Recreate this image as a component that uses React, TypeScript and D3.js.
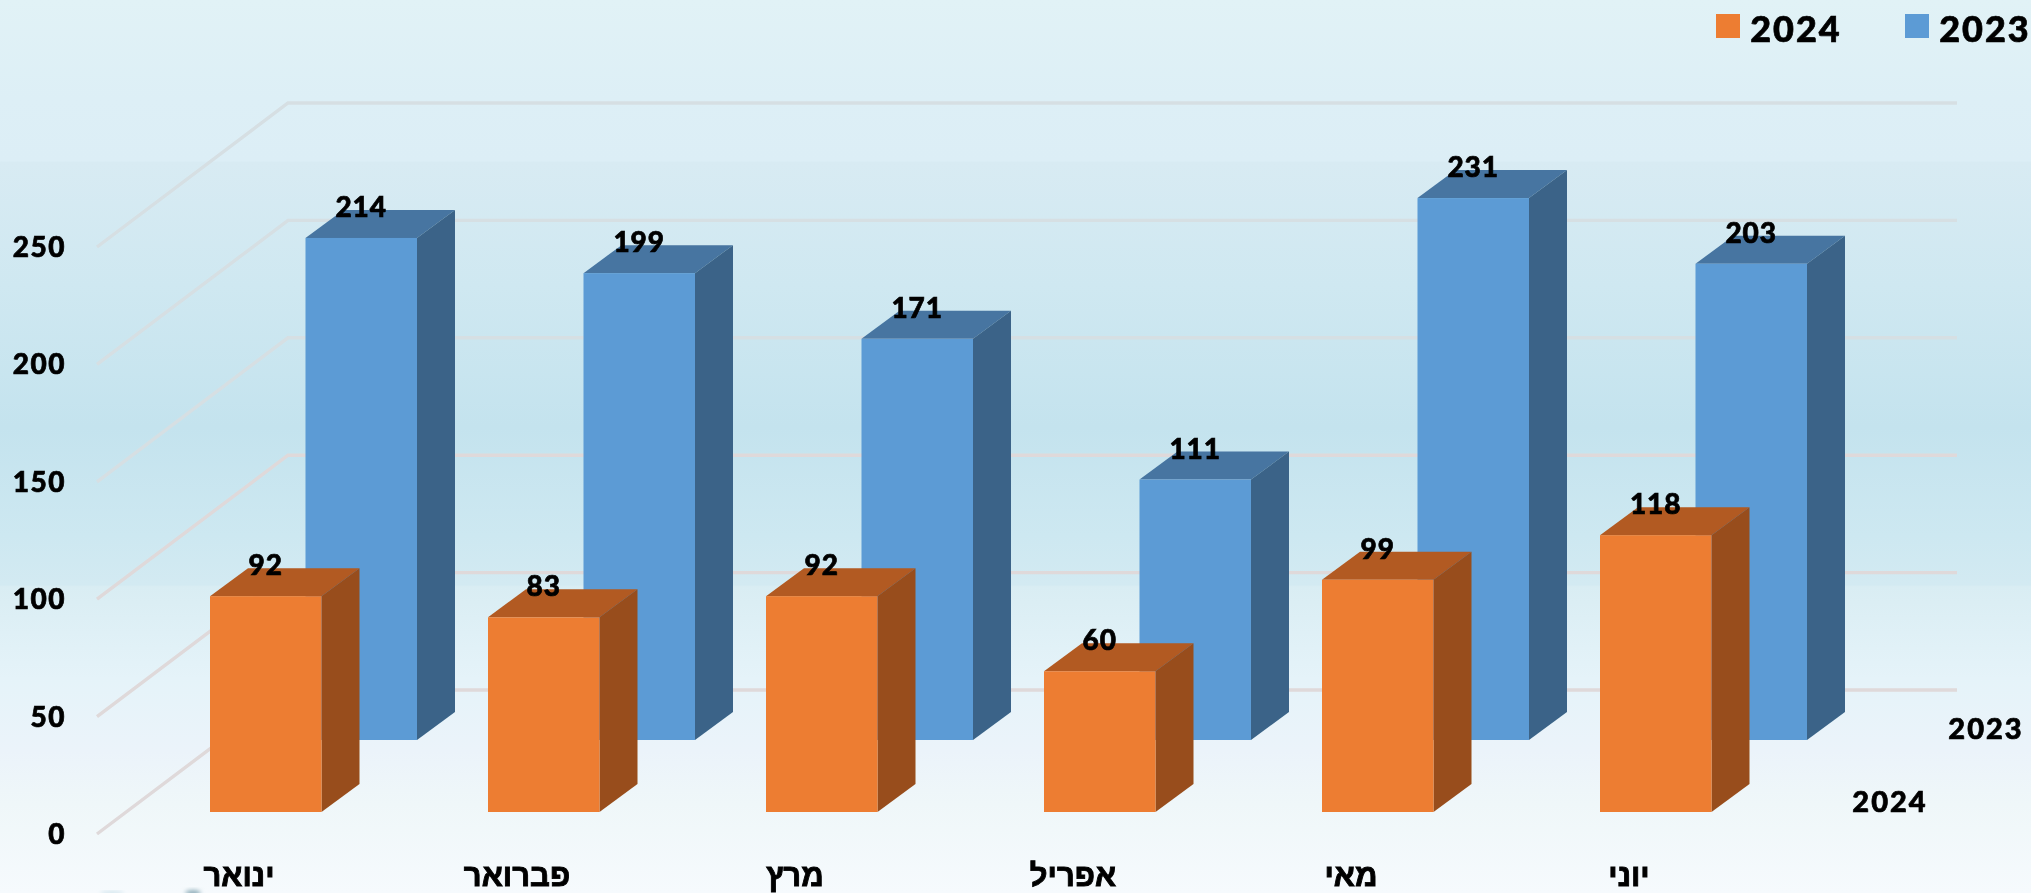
import React from "react";
import * as d3 from "d3";

const months = ["ינואר", "פברואר", "מרץ", "אפריל", "מאי", "יוני"];
const values2024 = [92, 83, 92, 60, 99, 118];
const values2023 = [214, 199, 171, 111, 231, 203];
const ticks = [0, 50, 100, 150, 200, 250];
const seriesNames = ["2024", "2023"];

const W = 2031, H = 893;
const digitFont = "Lato, 'Open Sans', sans-serif";
const hebFont = "'Liberation Sans', 'DejaVu Sans', sans-serif";

const bgStops: [number, string][] = [
  [0, "#e1f2f6"], [0.11, "#ddeff6"], [0.18, "#dceef6"], [0.182, "#d8ebf3"], [0.32, "#cfe8f1"],
  [0.478, "#c4e3ee"], [0.6, "#cde8f1"], [0.655, "#d3eaf2"], [0.657, "#d9edf3"], [0.76, "#e5f3f9"],
  [0.84, "#ebf3fa"], [0.9, "#eff7f9"], [1, "#f6fafd"],
];

const x = d3.scaleBand<number>().domain(d3.range(6)).range([210, 1878]).paddingInner(0).paddingOuter(0);
const barW = 111.5;
const yLen = (v: number) => d3.scaleLinear().domain([0, 250]).range([0, 586.5])(v);
const depth = { dx: 38, dy: 28 };
const gridDepth = { dx: 191, dy: 144 };
const gridBack = d3.scaleLinear().domain([0, 250]).range([690, 103]);
const gridX = { left: 97, back: 288, right: 1957 };

function Bar({ x0, base, v, front, side, top }: any) {
  const h = yLen(v);
  const x1 = x0 + barW, yt = base - h;
  const { dx, dy } = depth;
  return (
    <g>
      <polygon points={`${x0},${yt} ${x1},${yt} ${x1 + dx},${yt - dy} ${x0 + dx},${yt - dy}`} fill={top} />
      <polygon points={`${x1},${yt} ${x1 + dx},${yt - dy} ${x1 + dx},${base - dy} ${x1},${base}`} fill={side} />
      <rect x={x0} y={yt} width={barW} height={h} fill={front} />
    </g>
  );
}

const Num = ({ x, y, size = 28, spacing = 1, anchor = "middle", children }: any) => (
  <text x={x} y={y} fontFamily={digitFont} fontWeight={900} fontSize={size} letterSpacing={spacing}
    textAnchor={anchor} dominantBaseline="central" fill="#000" stroke="#000" strokeWidth={0.7}>{children}</text>
);

export default function App() {
  return (
    <svg width={W} height={H} viewBox={`0 0 ${W} ${H}`}
      style={{ position: "absolute", left: 0, top: 0, display: "block" }}>
      <defs>
        <linearGradient id="bg" x1="0" y1="0" x2="0" y2="1">
          {bgStops.map(([o, c]) => <stop key={o} offset={o} stopColor={c} />)}
        </linearGradient>
        <filter id="soft" x="-2%" y="-2%" width="104%" height="104%">
          <feGaussianBlur stdDeviation="0.7" />
        </filter>
        <filter id="smudge" x="-50%" y="-50%" width="200%" height="200%">
          <feGaussianBlur stdDeviation="2" />
        </filter>
      </defs>
      <rect width={W} height={H} fill="url(#bg)" />
      <ellipse cx={193} cy={893} rx={8} ry={3} fill="#8fadb9" filter="url(#smudge)" />
      <ellipse cx={112} cy={893} rx={12} ry={1.5} fill="#c5dde7" filter="url(#smudge)" />
      <g filter="url(#soft)">
        {ticks.map((t) => {
          const yb = gridBack(t);
          return (
            <g key={t}>
              <polyline points={`${gridX.left},${yb + gridDepth.dy} ${gridX.back},${yb} ${gridX.right},${yb}`}
                fill="none" stroke={t < 125 ? "#dfd9da" : "#d6dfe3"} strokeWidth={3.4} />
              <Num x={66} y={yb + gridDepth.dy - 1} anchor="end" spacing={1.5}>{t}</Num>
            </g>
          );
        })}
        {months.map((_, i) => (
          <Bar key={i} x0={x(i)! + 95.5} base={740} v={values2023[i]} front="#5b9bd5" side="#3a6488" top="#4675a1" />
        ))}
        {months.map((_, i) => (
          <Bar key={i} x0={x(i)!} base={812} v={values2024[i]} front="#ed7d31" side="#984e1c" top="#b25a21" />
        ))}
        {months.map((_, i) => (
          <Num key={i} x={x(i)! + 95.5 + barW / 2} y={740 - yLen(values2023[i]) - 32}>{values2023[i]}</Num>
        ))}
        {months.map((_, i) => (
          <Num key={i} x={x(i)! + barW / 2} y={812 - yLen(values2024[i]) - 32}>{values2024[i]}</Num>
        ))}
        {months.map((m, i) => (
          <text key={m} x={x(i)! + 29} y={886} direction="rtl" textAnchor="middle"
            fontFamily={hebFont} fontWeight={700} fontSize={31} fill="#000" stroke="#000" strokeWidth={0.9}>{m}</text>
        ))}
        <Num x={1986} y={727} size={29} spacing={2}>{seriesNames[1]}</Num>
        <Num x={1890} y={800} size={29} spacing={2}>{seriesNames[0]}</Num>
        <rect x={1716} y={14} width={24} height={24} fill="#ed7d31" />
        <Num x={1796} y={28} size={36} spacing={2}>{seriesNames[0]}</Num>
        <rect x={1905} y={14} width={24} height={24} fill="#5b9bd5" />
        <Num x={1985} y={28} size={36} spacing={2}>{seriesNames[1]}</Num>
      </g>
    </svg>
  );
}
